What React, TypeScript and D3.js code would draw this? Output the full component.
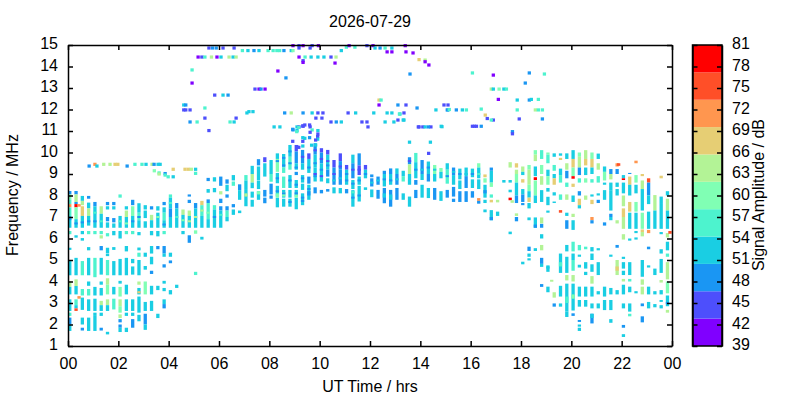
import React, { useEffect, useRef } from 'react';
import * as d3 from 'd3';

// [hour, low MHz, high MHz, dB]
type Span = [number, number, number, number];
// [hour, MHz, dB]
type Dot = [number, number, number];

const dateLabel = '2026-07-29';
const hourTicks = [0, 2, 4, 6, 8, 10, 12, 14, 16, 18, 20, 22, 24];
const freqTicks = [1, 2, 3, 4, 5, 6, 7, 8, 9, 10, 11, 12, 13, 14, 15];
const dbTicks = [39, 42, 45, 48, 51, 54, 57, 60, 63, 66, 69, 72, 75, 78, 81];
const bandColours = ['#8000ff', '#4d4ffc', '#1a96f3', '#1acee3', '#4df3ce', '#80ffb4', '#b3f396', '#e6ce74', '#ff964f', '#ff4f28', '#ff0000'];

const nightUpper: Span[] = [
  [0.07, 8.05, 8.21, 48], [0.07, 7.82, 8.05, 60], [0.07, 7.6, 7.82, 56], [0.07, 7.45, 7.6, 71], [0.07, 7.05, 7.45, 56], [0.07, 6.5, 7.05, 52], [0.07, 6.2, 6.35, 56],
  [0.32, 8.05, 8.21, 48], [0.32, 7.7, 8.05, 64], [0.32, 7.6, 7.7, 48], [0.32, 7.45, 7.6, 79], [0.32, 6.9, 7.45, 60], [0.32, 6.5, 6.9, 52], [0.32, 6.04, 6.15, 52],
  [0.44, 7.48, 7.6, 71],
  [0.57, 7.75, 7.98, 52], [0.57, 7.55, 7.75, 64], [0.57, 7.05, 7.5, 68], [0.57, 6.5, 7.05, 52], [0.57, 6.2, 6.35, 52], [0.57, 5.9, 6.02, 52],
  [0.82, 7.85, 7.98, 48], [0.82, 7.4, 7.67, 52], [0.82, 7.05, 7.4, 64], [0.82, 6.6, 7.05, 52], [0.82, 6.2, 6.35, 56],
  [1.07, 7.5, 7.7, 48], [1.07, 6.5, 7.5, 52], [1.07, 6.2, 6.35, 56],
  [1.32, 7.15, 7.5, 64], [1.32, 6.5, 7.15, 52], [1.32, 6.2, 6.35, 56], [1.32, 6.0, 6.15, 64],
  [1.57, 7.55, 7.7, 48], [1.57, 7.35, 7.5, 52], [1.57, 6.8, 7.0, 48], [1.57, 6.5, 6.75, 52], [1.57, 6.1, 6.25, 56],
  [1.82, 7.55, 7.7, 48], [1.82, 7.35, 7.5, 52], [1.82, 6.75, 6.95, 48], [1.82, 6.5, 6.7, 52], [1.82, 6.15, 6.35, 52],
  [2.07, 7.9, 8.05, 56], [2.07, 6.5, 7.05, 52], [2.07, 6.0, 6.35, 52],
  [2.32, 7.35, 7.5, 52], [2.32, 7.0, 7.3, 64], [2.32, 6.5, 7.0, 52], [2.32, 6.2, 6.35, 56],
  [2.57, 7.55, 7.8, 48], [2.57, 7.05, 7.5, 60], [2.57, 6.5, 7.05, 52], [2.57, 6.2, 6.35, 56],
  [2.82, 7.2, 7.64, 52], [2.82, 6.85, 7.2, 56], [2.82, 6.5, 6.85, 52], [2.82, 6.15, 6.3, 52],
  [3.07, 7.35, 7.55, 52], [3.07, 6.95, 7.3, 52], [3.07, 6.5, 6.8, 52],
  [3.32, 7.35, 7.5, 48], [3.32, 6.85, 7.1, 64], [3.32, 6.5, 6.85, 52], [3.32, 6.15, 6.35, 52],
  [3.57, 7.3, 7.5, 52], [3.57, 6.5, 7.2, 52], [3.57, 6.1, 6.35, 52],
  [3.82, 7.55, 7.7, 48], [3.82, 7.2, 7.45, 52], [3.82, 6.85, 7.2, 56], [3.82, 6.5, 6.85, 52], [3.82, 6.2, 6.35, 56],
  [4.07, 7.9, 8.05, 56], [4.07, 7.4, 7.9, 52], [4.07, 7.0, 7.4, 48], [4.07, 6.5, 7.0, 52],
  [4.32, 7.4, 7.65, 48], [4.32, 6.5, 7.4, 52],
  [4.57, 7.1, 7.35, 64], [4.57, 6.5, 7.1, 52], [4.57, 6.2, 6.35, 52],
  [4.82, 7.95, 8.05, 48], [4.82, 7.65, 7.8, 48], [4.82, 7.05, 7.3, 64], [4.82, 6.5, 7.05, 52], [4.82, 5.8, 6.15, 48],
  [5.07, 7.4, 7.65, 48], [5.07, 6.5, 7.4, 52], [5.07, 6.22, 6.38, 60],
  [5.32, 7.55, 7.75, 68], [5.32, 7.05, 7.55, 56], [5.32, 6.5, 7.05, 52], [5.32, 5.95, 6.08, 52],
  [5.57, 7.65, 7.82, 48], [5.57, 6.9, 7.65, 56], [5.57, 6.5, 6.9, 52], [5.57, 8.67, 8.82, 48], [5.57, 8.13, 8.3, 52],
  [5.82, 8.65, 8.85, 52], [5.82, 8.15, 8.35, 52], [5.82, 7.35, 7.55, 56], [5.82, 6.5, 7.35, 52],
  [6.07, 8.45, 8.88, 48], [6.07, 8.05, 8.2, 64], [6.07, 7.65, 7.85, 48], [6.07, 7.3, 7.5, 48], [6.07, 6.5, 7.3, 52],
  [6.32, 8.55, 8.75, 48], [6.32, 8.2, 8.5, 52], [6.32, 7.9, 8.05, 48], [6.32, 7.3, 7.5, 48], [6.32, 7.0, 7.3, 56], [6.32, 6.8, 7.0, 52],
  [6.57, 8.7, 8.95, 52], [6.57, 8.45, 8.65, 56], [6.57, 7.45, 7.6, 48], [6.57, 7.1, 7.35, 52],
  [6.82, 8.25, 8.52, 48], [6.82, 7.8, 8.25, 52], [6.82, 7.18, 7.3, 52],
  [7.07, 8.7, 8.95, 56], [7.07, 8.3, 8.7, 52], [7.07, 7.5, 8.3, 52], [7.07, 7.95, 8.1, 64],
];

const nightLower: Span[] = [
  [0.07, 5.47, 5.57, 52], [0.07, 4.29, 4.95, 52], [0.07, 3.75, 4.02, 64], [0.07, 3.4, 3.75, 52], [0.07, 2.63, 3.17, 52], [0.07, 2.4, 2.55, 56], [0.07, 2.0, 2.32, 48], [0.07, 1.7, 2.0, 52],
  [0.32, 4.29, 5.1, 52], [0.32, 3.79, 4.1, 64], [0.32, 3.4, 3.79, 52], [0.32, 2.9, 3.17, 56], [0.32, 2.75, 2.9, 52], [0.32, 2.63, 2.75, 75],
  [0.44, 3.2, 3.32, 71],
  [0.57, 4.29, 4.95, 56], [0.57, 3.35, 3.65, 56], [0.57, 2.68, 3.25, 52], [0.57, 2.0, 2.32, 52], [0.57, 1.72, 1.85, 48],
  [0.82, 5.45, 5.6, 52], [0.82, 4.29, 5.1, 52], [0.82, 3.8, 4.0, 52], [0.82, 3.35, 3.65, 56], [0.82, 2.63, 3.17, 52], [0.82, 1.7, 2.32, 52],
  [1.07, 4.2, 5.1, 56], [1.07, 3.35, 3.75, 52], [1.07, 2.63, 3.2, 52], [1.07, 2.4, 2.55, 52], [1.07, 1.7, 2.4, 52],
  [1.32, 5.45, 5.65, 48], [1.32, 4.32, 5.1, 52], [1.32, 3.85, 4.0, 52], [1.32, 3.35, 3.7, 52], [1.32, 2.9, 3.1, 64], [1.32, 2.63, 2.9, 52], [1.32, 2.4, 2.55, 52], [1.32, 1.72, 1.85, 48],
  [1.57, 5.32, 5.57, 52], [1.57, 5.18, 5.3, 52], [1.57, 4.29, 5.0, 56], [1.57, 3.85, 4.15, 64], [1.57, 3.4, 3.85, 60], [1.57, 2.9, 3.17, 64], [1.57, 2.63, 2.9, 52], [1.57, 1.54, 1.66, 52],
  [1.82, 5.47, 5.6, 52], [1.82, 4.29, 4.95, 52], [1.82, 3.4, 3.75, 52], [1.82, 2.7, 3.2, 56],
  [2.07, 4.29, 5.05, 52], [2.07, 3.9, 4.03, 52], [2.07, 3.3, 3.75, 60], [2.07, 2.85, 3.17, 64], [2.07, 2.55, 2.85, 60], [2.07, 2.3, 2.47, 64], [2.07, 2.1, 2.25, 48], [2.07, 1.85, 2.0, 48], [2.07, 1.65, 1.85, 52],
  [2.32, 5.4, 5.65, 52], [2.32, 4.29, 5.1, 52], [2.32, 3.4, 3.85, 52], [2.32, 2.63, 3.17, 52], [2.32, 2.4, 2.55, 52], [2.32, 1.65, 1.85, 52],
  [2.57, 4.85, 5.05, 52], [2.57, 4.32, 4.7, 52], [2.57, 2.63, 3.17, 52], [2.57, 2.4, 2.55, 52], [2.57, 1.85, 2.25, 48],
  [2.82, 5.45, 5.58, 52], [2.82, 5.15, 5.34, 56], [2.82, 4.29, 5.0, 52], [2.82, 3.85, 4.0, 64], [2.82, 3.4, 3.7, 52], [2.82, 3.45, 3.55, 68], [2.82, 2.55, 3.3, 52], [2.82, 2.15, 2.45, 52],
  [3.07, 5.15, 5.34, 52], [3.07, 4.55, 4.72, 52], [3.07, 3.4, 4.0, 60], [3.07, 2.63, 3.05, 52], [3.07, 2.0, 2.5, 48], [3.07, 1.75, 2.0, 52],
  [3.32, 5.3, 5.65, 52], [3.32, 4.8, 5.15, 52], [3.32, 4.35, 4.5, 48], [3.32, 3.4, 3.8, 52], [3.32, 2.63, 3.1, 52],
  [3.57, 5.5, 5.65, 48], [3.57, 3.6, 3.8, 52], [3.57, 2.3, 2.5, 52],
  [3.82, 5.3, 5.65, 48], [3.82, 5.15, 5.3, 52], [3.82, 4.65, 4.8, 48], [3.82, 3.9, 4.03, 52], [3.82, 3.55, 3.7, 52], [3.82, 2.95, 3.17, 52], [3.82, 2.75, 2.95, 48],
  [4.07, 5.15, 5.34, 52], [4.07, 4.85, 4.98, 48], [4.07, 3.4, 3.6, 52],
  [4.32, 3.7, 3.85, 52],
  [5.07, 4.3, 4.45, 56],
];

const dayLayer: Span[] = [
  [7.32, 9.0, 9.38, 52], [7.32, 8.6, 9.0, 64], [7.32, 8.34, 8.6, 52], [7.32, 7.9, 8.18, 52], [7.32, 7.48, 7.8, 52],
  [7.57, 9.4, 9.69, 48], [7.57, 8.72, 9.35, 52], [7.57, 8.3, 8.7, 52], [7.57, 7.8, 8.2, 52], [7.57, 8.05, 8.2, 60],
  [7.82, 9.55, 9.78, 45], [7.82, 8.88, 9.5, 52], [7.82, 7.95, 8.26, 48], [7.82, 7.64, 7.9, 48],
  [8.07, 9.0, 9.65, 52], [8.07, 8.64, 9.0, 56], [8.07, 8.05, 8.55, 48], [8.07, 7.85, 8.0, 48],
  [8.32, 9.7, 9.96, 52], [8.32, 9.1, 9.7, 60], [8.32, 8.57, 9.05, 52], [8.32, 7.95, 8.45, 52], [8.32, 7.45, 7.9, 52], [8.32, 7.9, 8.1, 60],
  [8.57, 9.3, 9.93, 52], [8.57, 9.05, 9.3, 56], [8.57, 8.35, 8.88, 56], [8.57, 7.9, 8.26, 52], [8.57, 7.48, 7.85, 52], [8.57, 7.95, 8.15, 60],
  [8.82, 9.8, 10.35, 52], [8.82, 9.2, 9.8, 56], [8.82, 8.35, 8.95, 52], [8.82, 7.9, 8.26, 52], [8.82, 7.48, 7.85, 52],
  [9.07, 10.05, 10.35, 45], [9.07, 9.5, 10.05, 48], [9.07, 9.2, 9.5, 52], [9.07, 8.95, 9.1, 48], [9.07, 8.35, 8.72, 52], [9.07, 7.95, 8.26, 52], [9.07, 7.36, 7.9, 52], [9.07, 7.9, 8.05, 60],
  [9.32, 9.5, 10.12, 48], [9.32, 9.2, 9.5, 52], [9.32, 8.6, 8.95, 52], [9.32, 8.26, 8.55, 52], [9.32, 7.55, 8.1, 52], [9.32, 7.7, 7.8, 48],
  [9.57, 9.7, 9.96, 45], [9.57, 9.05, 9.7, 52], [9.57, 8.55, 8.88, 48], [9.57, 7.8, 8.5, 52], [9.57, 8.0, 8.2, 48],
  [9.82, 9.9, 10.43, 48], [9.82, 9.3, 9.9, 52], [9.82, 8.65, 9.3, 52], [9.82, 8.1, 8.38, 48],
  [10.07, 10.0, 10.2, 45], [10.07, 9.5, 10.0, 48], [10.07, 8.65, 9.5, 52], [10.07, 8.1, 8.26, 48],
  [10.32, 9.9, 10.12, 45], [10.32, 9.2, 9.9, 52], [10.32, 8.88, 9.2, 48], [10.32, 8.57, 8.8, 52], [10.32, 8.18, 8.3, 48],
  [10.57, 9.3, 9.65, 45], [10.57, 8.5, 9.3, 48], [10.57, 8.1, 8.38, 52],
  [10.82, 9.6, 9.96, 45], [10.82, 9.2, 9.6, 48], [10.82, 8.5, 9.2, 48], [10.82, 8.1, 8.35, 52],
  [11.07, 9.2, 9.42, 45], [11.07, 8.5, 9.2, 52], [11.07, 8.1, 8.3, 48],
  [11.32, 9.5, 9.9, 52], [11.32, 8.8, 9.5, 48], [11.32, 8.3, 8.72, 52], [11.32, 7.48, 8.25, 52], [11.32, 8.1, 8.2, 56],
  [11.57, 9.4, 9.96, 48], [11.57, 8.95, 9.4, 45], [11.57, 8.5, 8.88, 52], [11.57, 7.72, 8.45, 52],
  [11.82, 9.2, 9.42, 45], [11.82, 8.8, 9.2, 52], [11.82, 8.26, 8.38, 52],
  [12.07, 8.85, 8.98, 48], [12.07, 8.42, 8.8, 48], [12.07, 7.92, 8.28, 52],
  [12.32, 8.5, 8.88, 48], [12.32, 7.85, 8.26, 48],
  [12.57, 9.0, 9.15, 48], [12.57, 8.42, 9.0, 52], [12.57, 7.64, 8.35, 48], [12.57, 7.9, 8.1, 52],
  [12.82, 9.0, 9.26, 48], [12.82, 8.5, 9.0, 52], [12.82, 7.48, 8.26, 48], [12.82, 7.8, 8.05, 52],
  [13.07, 9.0, 9.26, 52], [13.07, 8.5, 9.0, 48], [13.07, 7.8, 8.35, 48],
  [13.32, 8.9, 9.15, 52], [13.32, 8.65, 8.9, 56], [13.32, 7.8, 8.1, 52],
  [13.57, 9.45, 9.78, 48], [13.57, 9.0, 9.45, 64], [13.57, 8.5, 9.0, 52], [13.57, 7.48, 7.95, 52],
  [13.82, 9.55, 9.98, 56], [13.82, 8.8, 9.55, 52], [13.82, 8.5, 8.72, 48], [13.82, 7.88, 8.26, 48],
  [14.07, 9.0, 9.65, 48], [14.07, 8.72, 9.0, 52], [14.07, 7.9, 8.5, 52],
  [14.32, 9.0, 9.58, 52], [14.32, 8.65, 9.0, 48], [14.32, 7.88, 8.35, 52],
  [14.57, 9.0, 9.42, 60], [14.57, 8.65, 9.0, 52], [14.57, 7.8, 8.35, 48],
  [14.82, 9.1, 9.28, 60], [14.82, 8.8, 9.1, 52], [14.82, 7.75, 8.2, 52],
  [15.07, 9.2, 9.5, 52], [15.07, 8.55, 9.2, 56], [15.07, 7.9, 8.26, 48],
  [15.32, 8.95, 9.3, 48], [15.32, 8.5, 8.95, 52], [15.32, 7.95, 8.4, 48], [15.32, 7.7, 7.85, 48],
  [15.57, 8.75, 9.25, 52], [15.57, 8.3, 8.7, 52], [15.57, 7.7, 8.2, 48],
  [15.82, 8.9, 9.3, 52], [15.82, 8.35, 8.9, 48], [15.82, 7.7, 8.2, 48],
  [16.07, 8.85, 9.25, 52], [16.07, 8.35, 8.75, 52], [16.07, 7.9, 8.2, 48],
  [16.32, 9.3, 9.5, 60], [16.32, 8.8, 9.3, 52], [16.32, 8.3, 8.75, 52], [16.32, 7.75, 7.88, 71], [16.32, 7.62, 7.75, 48],
];

const eveningUpper: Span[] = [
  [16.57, 8.85, 8.98, 68], [16.57, 8.6, 8.8, 60], [16.57, 7.9, 8.5, 52], [16.57, 8.1, 8.25, 48], [16.57, 7.65, 7.8, 52], [16.57, 7.22, 7.35, 52],
  [16.82, 9.15, 9.3, 48], [16.82, 8.6, 9.15, 52], [16.82, 8.4, 8.6, 60], [16.82, 7.9, 8.05, 56], [16.82, 7.68, 7.8, 68], [16.82, 6.85, 7.32, 52], [16.82, 6.85, 7.0, 48],
  [17.07, 7.68, 7.8, 64], [17.07, 7.05, 7.25, 52],
  [17.32, 8.6, 8.72, 52],
  [17.57, 9.3, 9.55, 64], [17.57, 8.6, 8.72, 52], [17.57, 8.15, 8.27, 52], [17.57, 7.78, 7.9, 79], [17.57, 6.2, 6.32, 52],
  [17.65, 7.66, 7.78, 64],
  [17.82, 9.3, 9.5, 68], [17.82, 9.0, 9.2, 64], [17.82, 8.6, 9.0, 60], [17.82, 8.0, 8.6, 52], [17.82, 7.65, 8.0, 48], [17.82, 7.05, 7.17, 64], [17.82, 6.8, 7.0, 48],
  [18.07, 9.1, 9.35, 64], [18.07, 8.95, 9.1, 52], [18.07, 8.6, 8.76, 68], [18.07, 8.05, 8.3, 52], [18.07, 7.7, 8.05, 48], [18.07, 7.55, 7.65, 48],
  [18.32, 9.2, 9.42, 60], [18.32, 8.5, 9.2, 64], [18.32, 8.2, 8.5, 60], [18.32, 7.9, 8.2, 52], [18.32, 7.7, 7.9, 68], [18.32, 7.4, 7.65, 52], [18.32, 6.85, 6.98, 52],
  [18.57, 9.9, 10.11, 60], [18.57, 9.6, 9.9, 64], [18.57, 8.9, 9.35, 52], [18.57, 8.72, 8.85, 79], [18.57, 8.0, 8.7, 60], [18.57, 7.65, 8.0, 52], [18.57, 6.5, 6.98, 52], [18.57, 6.5, 6.65, 48], [18.57, 5.42, 5.55, 52],
  [18.82, 9.7, 10.11, 56], [18.82, 9.0, 9.42, 60], [18.82, 8.5, 8.9, 64], [18.82, 7.7, 8.25, 52], [18.82, 6.7, 6.98, 64], [18.82, 6.5, 6.68, 48], [18.82, 6.0, 6.2, 52], [18.82, 5.45, 5.7, 64],
  [19.07, 9.9, 10.0, 60], [19.07, 9.5, 9.9, 56], [19.07, 8.9, 9.2, 52], [19.07, 8.5, 8.9, 60], [19.07, 8.18, 8.35, 52], [19.07, 7.55, 7.94, 52], [19.07, 7.2, 7.3, 52],
  [19.32, 9.8, 9.96, 52], [19.32, 9.15, 9.42, 56], [19.32, 8.8, 9.0, 52], [19.32, 8.5, 8.8, 68], [19.32, 8.0, 8.15, 52], [19.32, 7.65, 7.72, 52],
  [19.57, 9.85, 9.96, 52], [19.57, 9.65, 9.75, 68], [19.57, 8.95, 9.25, 52], [19.57, 8.6, 8.95, 56], [19.57, 7.8, 8.05, 56], [19.57, 7.2, 7.32, 75],
  [19.82, 9.7, 9.96, 52], [19.82, 9.2, 9.5, 64], [19.82, 8.8, 9.15, 48], [19.82, 8.4, 8.6, 56], [19.82, 7.8, 8.05, 64], [19.82, 7.05, 7.2, 52], [19.82, 6.45, 6.85, 48],
  [20.07, 9.7, 10.11, 52], [20.07, 9.3, 9.7, 68], [20.07, 8.9, 9.3, 60], [20.07, 8.78, 8.9, 79], [20.07, 8.4, 8.55, 68], [20.07, 7.7, 8.0, 52], [20.07, 7.0, 7.15, 64], [20.07, 6.4, 6.85, 52],
  [20.32, 9.8, 10.0, 60], [20.32, 9.3, 9.8, 64], [20.32, 8.95, 9.3, 48], [20.32, 8.6, 8.8, 56], [20.32, 8.0, 8.2, 48], [20.32, 7.55, 7.85, 68], [20.32, 7.4, 7.55, 52],
  [20.57, 9.7, 10.11, 64], [20.57, 9.4, 9.7, 68], [20.57, 8.95, 9.3, 52], [20.57, 8.6, 8.8, 60], [20.57, 7.8, 8.0, 64],
  [20.82, 9.7, 10.0, 60], [20.82, 9.3, 9.7, 68], [20.82, 9.0, 9.3, 52], [20.82, 8.6, 8.76, 56], [20.82, 7.95, 8.05, 52], [20.82, 7.6, 7.8, 68], [20.82, 6.85, 7.0, 71], [20.82, 6.7, 6.85, 48],
  [21.07, 9.7, 9.95, 52], [21.07, 9.2, 9.5, 64], [21.07, 8.6, 8.9, 56], [21.07, 8.0, 8.1, 52], [21.07, 7.65, 7.8, 48],
  [21.32, 9.1, 9.35, 52], [21.32, 8.7, 9.1, 60], [21.32, 8.5, 8.6, 52], [21.32, 7.8, 8.25, 52], [21.32, 6.6, 6.75, 48],
  [21.57, 9.0, 9.23, 48], [21.57, 8.75, 9.0, 64], [21.57, 8.25, 8.6, 52], [21.57, 7.3, 8.25, 52], [21.57, 7.0, 7.15, 48], [21.57, 6.85, 7.0, 52],
  [21.82, 9.35, 9.5, 71], [21.82, 9.0, 9.23, 48], [21.82, 8.4, 8.6, 52], [21.82, 8.0, 8.3, 52], [21.82, 6.7, 6.85, 64],
  [21.88, 9.38, 9.5, 75],
  [22.07, 8.8, 8.95, 52], [22.07, 8.72, 8.8, 79], [22.07, 8.1, 8.6, 52], [22.07, 7.5, 8.0, 64], [22.07, 7.0, 7.4, 68], [22.07, 6.45, 7.0, 64], [22.07, 5.95, 6.2, 64],
  [22.32, 9.0, 9.05, 48], [22.32, 8.5, 8.88, 68], [22.32, 8.0, 8.5, 52], [22.32, 7.25, 7.7, 68], [22.32, 6.45, 7.2, 52], [22.32, 5.9, 6.0, 52],
  [22.57, 9.5, 9.62, 71], [22.57, 8.6, 8.95, 60], [22.57, 8.1, 8.5, 52], [22.57, 7.25, 7.7, 60], [22.57, 6.45, 7.2, 52], [22.57, 6.25, 6.35, 52], [22.57, 5.95, 6.05, 52],
  [22.82, 8.9, 9.0, 68], [22.82, 8.3, 8.7, 64], [22.82, 7.3, 8.3, 52], [22.82, 6.45, 7.2, 60], [22.82, 6.1, 6.3, 64], [22.82, 6.3, 6.42, 68],
  [23.07, 8.6, 8.8, 75], [23.07, 8.0, 8.6, 48], [23.07, 7.6, 8.0, 52], [23.07, 6.45, 7.25, 52], [23.07, 6.25, 6.4, 71],
  [23.32, 7.3, 8.02, 64], [23.32, 6.45, 7.3, 52],
  [23.57, 8.8, 8.92, 68], [23.57, 7.65, 7.95, 52], [23.57, 6.45, 7.65, 52], [23.57, 6.2, 6.3, 52],
  [23.82, 8.0, 8.2, 52], [23.82, 7.3, 7.85, 64], [23.82, 6.45, 7.3, 52], [23.82, 6.05, 6.25, 64],
  [23.92, 6.22, 6.35, 75],
];

const eveningLower: Span[] = [
  [18.07, 4.8, 4.92, 52],
  [18.32, 5.42, 5.62, 48], [18.32, 5.15, 5.3, 52], [18.32, 4.98, 5.08, 52],
  [18.82, 4.82, 5.1, 48], [18.82, 4.68, 4.82, 52], [18.82, 3.75, 3.88, 48],
  [19.07, 4.45, 4.7, 52], [19.07, 4.6, 4.75, 52], [19.07, 3.5, 3.76, 52],
  [19.22, 3.99, 4.08, 64], [19.32, 3.25, 3.5, 64], [19.32, 2.83, 2.98, 48],
  [19.57, 4.4, 5.3, 52], [19.57, 4.7, 4.9, 56], [19.57, 3.3, 3.8, 52], [19.57, 2.83, 2.98, 52],
  [19.82, 5.4, 5.7, 52], [19.82, 4.4, 5.15, 52], [19.82, 4.05, 4.3, 64], [19.82, 2.6, 3.9, 52], [19.82, 3.0, 3.3, 56], [19.82, 2.35, 2.6, 52],
  [20.07, 5.4, 5.85, 56], [20.07, 5.0, 5.3, 52], [20.07, 4.5, 5.0, 56], [20.07, 4.0, 4.3, 64], [20.07, 2.65, 3.9, 52], [20.07, 3.2, 3.4, 60], [20.07, 2.4, 2.52, 48],
  [20.32, 5.45, 5.7, 56], [20.32, 5.15, 5.25, 52], [20.32, 4.65, 4.78, 52], [20.32, 3.3, 3.76, 52], [20.32, 2.83, 3.14, 52], [20.32, 2.12, 2.21, 48], [20.32, 1.9, 2.0, 52], [20.32, 1.7, 1.85, 52],
  [20.57, 5.5, 5.62, 56], [20.57, 4.6, 4.9, 52], [20.57, 4.3, 4.45, 52], [20.57, 3.3, 3.76, 52], [20.57, 2.83, 3.14, 52],
  [20.82, 5.4, 5.6, 52], [20.82, 5.0, 5.3, 52], [20.82, 4.45, 4.8, 52], [20.82, 3.9, 4.25, 64], [20.82, 3.3, 3.76, 52], [20.82, 2.75, 2.98, 52], [20.82, 2.05, 2.5, 48], [20.82, 2.3, 2.5, 52],
  [21.07, 5.45, 5.55, 52], [21.07, 4.3, 4.9, 52], [21.07, 3.4, 3.55, 52], [21.07, 2.75, 2.98, 52],
  [21.32, 3.3, 3.76, 52], [21.32, 2.67, 3.14, 52],
  [21.57, 5.15, 5.25, 52], [21.57, 3.4, 3.7, 52], [21.57, 2.67, 3.14, 52], [21.57, 2.08, 2.25, 52],
  [21.82, 5.57, 5.7, 48], [21.82, 4.3, 5.0, 64], [21.82, 4.5, 4.7, 68], [21.82, 3.4, 3.6, 52],
  [22.07, 5.05, 5.15, 52], [22.07, 4.6, 4.9, 52], [22.07, 4.3, 4.5, 52], [22.07, 4.0, 4.12, 64], [22.07, 3.4, 3.85, 52], [22.07, 2.75, 2.98, 52], [22.07, 1.85, 1.98, 48], [22.07, 1.42, 1.55, 52],
  [22.32, 4.3, 4.9, 52], [22.32, 4.0, 4.12, 56], [22.32, 3.5, 3.76, 52], [22.32, 2.6, 2.98, 52], [22.32, 2.38, 2.5, 56],
  [22.57, 3.45, 3.55, 52],
  [22.82, 4.22, 5.0, 52], [22.82, 3.85, 4.1, 64], [22.82, 3.4, 3.76, 64], [22.82, 2.85, 2.98, 48], [22.82, 2.1, 2.38, 48],
  [23.07, 5.5, 5.62, 48], [23.07, 4.65, 4.75, 52], [23.07, 3.4, 3.76, 52], [23.07, 2.75, 3.05, 52],
  [23.32, 4.3, 4.6, 52], [23.32, 3.4, 3.55, 52], [23.32, 2.8, 2.95, 52],
  [23.57, 5.3, 5.5, 52], [23.57, 4.4, 5.05, 52], [23.57, 3.95, 4.07, 64], [23.57, 3.4, 3.6, 52], [23.57, 3.05, 3.14, 52], [23.57, 2.75, 2.9, 52],
  [23.82, 5.45, 5.85, 52], [23.82, 5.15, 5.3, 56], [23.82, 4.1, 4.9, 64], [23.82, 3.45, 4.0, 60], [23.82, 2.85, 3.35, 52], [23.82, 2.95, 3.05, 48], [23.82, 2.55, 2.68, 64],
];

const traceNearNine: Dot[] = [
  [0.84, 9.37, 48], [1.07, 9.45, 71], [1.15, 9.37, 52], [1.42, 9.45, 64], [1.67, 9.45, 64], [1.87, 9.45, 68], [1.98, 9.45, 68], [2.35, 9.37, 48],
  [2.66, 9.45, 56], [2.94, 9.45, 56], [3.1, 9.45, 52], [3.34, 9.45, 64], [3.42, 9.45, 48], [3.58, 9.45, 52], [3.66, 9.45, 52],
  [3.43, 9.15, 60], [3.62, 9.05, 56], [3.62, 9.0, 64], [3.86, 9.02, 48], [3.86, 8.95, 56], [3.98, 8.87, 56], [4.18, 8.87, 52], [4.18, 9.22, 68], [4.65, 9.22, 68], [4.78, 9.22, 68], [4.9, 9.22, 64], [5.07, 9.22, 52], [5.07, 9.03, 56],
];

// thin blue, indigo and green flecks inside the dense columns
const flecks: Dot[] = [
  [8.32, 9.6, 48], [8.32, 8.8, 48], [8.32, 8.2, 48], [8.57, 9.75, 48], [8.57, 9.4, 48], [8.57, 8.1, 48], [8.82, 10.05, 48], [8.82, 9.5, 48], [8.82, 8.7, 48], [8.82, 7.7, 48],
  [9.07, 9.3, 48], [9.07, 8.5, 48], [9.07, 8.1, 48], [9.32, 9.8, 45], [9.32, 8.8, 48], [9.32, 7.9, 48], [9.57, 9.3, 48], [9.57, 8.3, 48], [9.82, 10.1, 45], [9.82, 9.5, 48], [9.82, 9.0, 45], [9.82, 8.9, 48],
  [10.07, 9.7, 45], [10.07, 9.2, 48], [10.07, 8.9, 45], [10.32, 9.6, 45], [10.32, 9.4, 48], [10.57, 9.0, 45], [10.57, 8.7, 52], [10.82, 9.35, 45], [10.82, 8.8, 52], [11.07, 9.0, 48], [11.07, 8.7, 48],
  [11.32, 9.2, 45], [11.32, 8.55, 48], [11.32, 7.9, 48], [11.57, 9.2, 45], [11.57, 8.7, 48], [11.57, 8.0, 48], [11.82, 9.0, 48], [12.07, 8.6, 52], [12.32, 8.7, 52], [12.57, 8.75, 48], [12.82, 8.7, 48], [13.07, 8.75, 52],
  [13.57, 9.6, 45], [13.82, 9.2, 48], [14.07, 9.2, 52], [14.32, 9.3, 48], [14.57, 9.2, 52], [15.07, 8.9, 48], [15.32, 9.1, 52], [15.57, 9.0, 48], [15.82, 9.0, 52], [16.07, 9.0, 48], [16.32, 9.0, 56],
  [0.07, 6.9, 48], [0.32, 6.7, 48], [0.57, 6.75, 48], [0.82, 6.8, 48], [1.07, 7.2, 56], [1.07, 6.8, 48], [1.32, 6.8, 56], [2.07, 6.8, 56], [2.32, 6.7, 60], [2.57, 6.8, 48], [2.82, 7.0, 48], [3.57, 7.0, 60], [3.82, 6.65, 48], [4.07, 7.65, 56], [4.32, 7.0, 56], [4.57, 6.85, 60], [4.82, 6.8, 64], [5.07, 7.0, 64], [5.32, 7.3, 64], [5.57, 7.2, 60], [5.82, 7.0, 48], [6.07, 7.1, 56],
];

const sparseEchoes: Dot[] = [
  [5.6, 14.86, 45], [5.74, 14.86, 48], [5.89, 14.86, 48], [6.16, 14.86, 45], [6.6, 14.86, 45], [6.93, 14.74, 56], [7.15, 14.74, 52], [7.39, 14.74, 48], [7.59, 14.74, 52], [7.95, 14.74, 56], [8.15, 14.74, 56], [8.3, 14.74, 56], [8.41, 14.74, 56], [8.58, 14.74, 48], [8.87, 14.74, 52], [8.94, 14.74, 60],
  [8.94, 14.97, 41], [9.18, 14.97, 45], [9.34, 14.97, 41], [9.7, 14.97, 45], [9.95, 14.97, 41], [9.62, 14.86, 45], [9.18, 14.86, 45], [11.06, 14.9, 56], [11.17, 14.97, 41], [11.4, 14.9, 56], [11.88, 14.97, 45], [12.12, 14.97, 41], [12.2, 14.86, 52], [12.4, 14.86, 48], [12.6, 14.86, 56], [12.87, 14.86, 52], [12.68, 14.68, 41], [12.87, 14.68, 41], [13.43, 14.68, 41], [13.71, 14.63, 41],
  [5.17, 14.44, 41], [5.32, 14.44, 45], [5.44, 14.44, 56], [5.7, 14.44, 64], [5.92, 14.44, 41], [6.08, 14.44, 52], [6.4, 14.44, 64], [6.56, 14.44, 52], [6.68, 14.44, 64], [9.18, 14.44, 41], [9.42, 14.44, 56], [9.66, 14.44, 52], [9.93, 14.44, 52], [10.17, 14.44, 52], [10.45, 14.44, 45], [10.65, 14.44, 64], [10.86, 14.74, 52],
  [9.34, 14.27, 45], [9.34, 14.19, 41], [10.61, 14.16, 41], [13.95, 14.32, 68], [14.19, 14.3, 64], [14.19, 14.22, 41], [14.34, 14.07, 41],
  [4.93, 13.84, 56], [8.34, 13.79, 41], [13.59, 13.65, 48], [8.66, 13.47, 48], [4.93, 13.23, 41],
  [7.43, 12.95, 45], [7.59, 12.95, 41], [7.67, 12.95, 48], [7.83, 12.95, 41], [5.83, 12.67, 45], [6.16, 12.67, 52], [6.36, 12.67, 48],
  [12.36, 12.44, 68], [12.44, 12.44, 56], [12.36, 12.21, 41], [4.6, 12.21, 52], [4.68, 12.21, 48], [13.11, 12.21, 48], [13.43, 12.21, 45], [13.87, 12.07, 48], [14.94, 12.21, 45], [15.1, 12.21, 45],
  [5.44, 12.07, 56], [4.6, 11.98, 45], [4.68, 11.98, 45], [4.85, 11.98, 45], [14.62, 11.98, 52], [15.1, 11.98, 52],
  [7.11, 11.84, 52], [7.19, 11.9, 52], [7.35, 11.9, 52], [8.61, 11.84, 48], [8.87, 11.84, 64], [9.34, 11.84, 48], [9.7, 11.84, 52], [9.93, 11.84, 45], [10.13, 11.84, 45], [11.13, 11.84, 45], [11.43, 11.84, 52], [12.15, 11.84, 52], [12.68, 11.84, 52], [12.87, 11.84, 52], [13.19, 11.79, 52], [13.35, 11.84, 45],
  [5.44, 11.6, 45], [6.68, 11.6, 45], [9.85, 11.6, 45], [10.09, 11.6, 45], [13.11, 11.51, 45], [13.35, 11.51, 52],
  [4.85, 11.42, 48], [5.13, 11.42, 56], [6.44, 11.42, 56], [6.6, 11.42, 52], [10.45, 11.42, 45], [10.66, 11.42, 48], [10.86, 11.42, 52], [11.68, 11.42, 45], [11.88, 11.42, 45], [12.6, 11.42, 52], [12.95, 11.42, 52],
  [8.19, 11.19, 52], [8.42, 11.19, 52], [9.1, 11.19, 52], [9.18, 11.19, 45], [9.34, 11.22, 45], [9.62, 11.19, 45], [11.92, 11.19, 45], [13.95, 11.19, 45], [14.1, 11.19, 45], [14.19, 11.19, 52], [14.42, 11.19, 45], [14.86, 11.2, 52],
  [5.6, 11.02, 45], [8.94, 11.05, 48], [9.1, 11.02, 52], [9.7, 11.05, 56], [9.93, 11.02, 52], [9.62, 10.94, 45], [9.93, 10.86, 45],
  [8.93, 11.08, 48], [9.09, 10.97, 56], [9.17, 11.17, 56], [9.33, 11.24, 45], [9.41, 11.28, 45], [9.6, 11.28, 45], [9.6, 10.69, 48], [9.33, 10.69, 52], [9.41, 10.66, 52], [9.92, 10.74, 45], [9.92, 10.62, 52], [9.84, 10.58, 45], [8.93, 10.52, 45], [9.33, 10.52, 45], [9.09, 10.27, 45], [9.17, 10.24, 45], [9.33, 10.3, 52], [9.68, 10.34, 52], [9.84, 10.35, 52], [13.57, 10.48, 52], [14.4, 10.48, 52], [14.33, 9.96, 45],
  [13.4, 14.97, 41],
  [16.07, 13.7, 56], [16.9, 13.6, 41], [18.33, 13.7, 48], [18.93, 13.65, 56], [18.17, 13.23, 48],
  [16.82, 12.95, 64], [16.9, 12.95, 52], [17.13, 12.95, 60], [17.32, 12.95, 52], [17.42, 12.95, 56], [17.1, 12.47, 41], [17.85, 12.44, 52], [18.33, 12.44, 48], [18.41, 12.47, 52], [18.69, 12.47, 56],
  [15.07, 11.98, 48], [15.15, 12.0, 56], [15.43, 11.98, 48], [15.67, 11.98, 52], [15.83, 11.98, 56], [16.42, 12.02, 56], [17.85, 11.98, 56], [18.57, 11.98, 64], [18.69, 11.98, 56], [18.85, 11.98, 56],
  [13.17, 11.79, 56], [16.58, 11.74, 68], [16.66, 11.58, 45], [16.9, 11.51, 45], [16.82, 11.51, 56], [17.93, 11.56, 45], [18.85, 11.56, 48], [13.32, 11.51, 52],
  [13.92, 11.19, 45], [14.32, 11.19, 48], [14.83, 11.22, 52], [16.07, 11.22, 45], [16.15, 11.22, 45], [16.23, 11.22, 45], [16.42, 11.22, 48], [17.66, 10.97, 48], [17.66, 10.87, 45],
];

const App: React.FC = () => {
  const svgRef = useRef<SVGSVGElement | null>(null);

  useEffect(() => {
    if (!svgRef.current) return;
    const width = 800;
    const height = 400;
    const margin = { top: 45, right: 128, bottom: 54, left: 68 };

    const svg = d3.select(svgRef.current);
    svg.selectAll('*').remove();
    svg.attr('width', width).attr('height', height).attr('viewBox', `0 0 ${width} ${height}`);
    svg.style('font-family', '"Liberation Sans", Arial, sans-serif').style('font-size', '16px');

    const x = d3.scaleLinear().domain([0, 24]).range([margin.left, width - margin.right]);
    const y = d3.scaleLinear().domain([1, 15]).range([height - margin.bottom, margin.top]);
    const colour = d3.scaleQuantize<string>().domain([39, 81]).range(bandColours);

    const cellW = 3.3;
    const cellH = 3.2;
    const spans = [...nightUpper, ...nightLower, ...dayLayer, ...eveningUpper, ...eveningLower];

    // column spans
    svg.append('g').selectAll('rect')
      .data(spans)
      .enter()
      .append('rect')
      .attr('x', d => x(d[0]) - cellW / 2)
      .attr('y', d => y(Math.max(d[1], d[2])))
      .attr('width', cellW)
      .attr('height', d => Math.abs(y(d[1]) - y(d[2])))
      .attr('fill', d => colour(d[3]));

    // flecks sit in the columns, one row high
    svg.append('g').selectAll('rect')
      .data(flecks)
      .enter()
      .append('rect')
      .attr('x', d => x(d[0]) - cellW / 2)
      .attr('y', d => y(d[1]) - 1)
      .attr('width', cellW)
      .attr('height', 2)
      .attr('fill', d => colour(d[2]));

    // single echoes
    svg.append('g').selectAll('rect')
      .data([...traceNearNine, ...sparseEchoes])
      .enter()
      .append('rect')
      .attr('x', d => x(d[0]) - cellW / 2)
      .attr('y', d => y(d[1]) - cellH / 2)
      .attr('width', cellW)
      .attr('height', cellH)
      .attr('fill', d => colour(d[2]));

    const styleAxis = (g: d3.Selection<SVGGElement, unknown, null, undefined>) => {
      g.selectAll('path, line').attr('stroke', '#000').attr('stroke-width', 1.5);
      g.selectAll('text').attr('fill', '#000').style('font-size', '16px').style('font-family', '"Liberation Sans", Arial, sans-serif');
    };

    const hourLabel = (d: d3.NumberValue) => String(+d % 24).padStart(2, '0');
    const liftLabels = (g: d3.Selection<SVGGElement, unknown, null, undefined>) => {
      g.selectAll('text').attr('dy', '0.22em');
    };

    svg.append('g')
      .attr('transform', `translate(0, ${height - margin.bottom})`)
      .call(d3.axisBottom(x).tickValues(hourTicks).tickFormat(hourLabel).tickSize(-5).tickSizeOuter(0).tickPadding(12))
      .call(styleAxis);
    svg.append('g')
      .attr('transform', `translate(0, ${margin.top})`)
      .call(d3.axisTop(x).tickValues(hourTicks).tickFormat(() => '').tickSize(-5).tickSizeOuter(0))
      .call(styleAxis);
    svg.append('g')
      .attr('transform', `translate(${margin.left}, 0)`)
      .call(d3.axisLeft(y).tickValues(freqTicks).tickFormat(d3.format('d')).tickSize(-5).tickSizeOuter(0).tickPadding(10))
      .call(styleAxis)
      .call(liftLabels);
    svg.append('g')
      .attr('transform', `translate(${width - margin.right}, 0)`)
      .call(d3.axisRight(y).tickValues(freqTicks).tickFormat(() => '').tickSize(-5).tickSizeOuter(0))
      .call(styleAxis);

    // colour bar
    const barLeft = 692.5;
    const barRight = 722;
    const yBar = d3.scaleLinear().domain([39, 81]).range([height - margin.bottom, margin.top]);
    svg.append('g').selectAll('rect')
      .data(bandColours)
      .enter()
      .append('rect')
      .attr('x', barLeft)
      .attr('width', barRight - barLeft)
      .attr('y', d => yBar(colour.invertExtent(d)[1]))
      .attr('height', d => yBar(colour.invertExtent(d)[0]) - yBar(colour.invertExtent(d)[1]))
      .attr('fill', d => d);
    svg.append('rect')
      .attr('x', barLeft)
      .attr('y', margin.top)
      .attr('width', barRight - barLeft)
      .attr('height', height - margin.top - margin.bottom)
      .attr('fill', 'none')
      .attr('stroke', '#000')
      .attr('stroke-width', 1.5);
    svg.append('g')
      .attr('transform', `translate(${barRight}, 0)`)
      .call(d3.axisRight(yBar).tickValues(dbTicks).tickFormat(d3.format('d')).tickSize(-5).tickSizeOuter(0).tickPadding(10))
      .call(styleAxis)
      .call(liftLabels);
    svg.append('g')
      .attr('transform', `translate(${barLeft}, 0)`)
      .call(d3.axisLeft(yBar).tickValues(dbTicks).tickFormat(() => '').tickSize(-5).tickSizeOuter(0))
      .call(styleAxis);

    // titles
    svg.append('text').attr('x', 370).attr('y', 27).attr('text-anchor', 'middle').text(dateLabel);
    svg.append('text').attr('x', 370).attr('y', 392).attr('text-anchor', 'middle').text('UT Time / hrs');
    svg.append('text')
      .attr('transform', 'translate(18, 195) rotate(-90)')
      .attr('text-anchor', 'middle')
      .text('Frequency / MHz');
    svg.append('text')
      .attr('transform', 'translate(764, 195) rotate(-90)')
      .attr('text-anchor', 'middle')
      .text('Signal Amplitude / dB');
  }, []);

  return <svg ref={svgRef} style={{ position: 'absolute', left: 0, top: 0 }} />;
};

export default App;
